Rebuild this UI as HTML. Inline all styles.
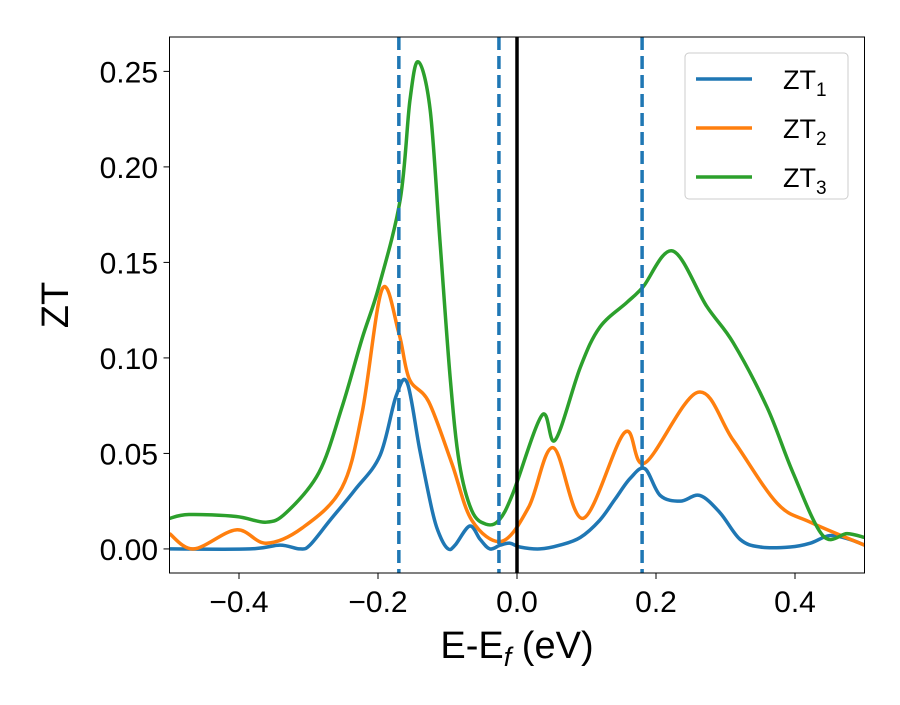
<!DOCTYPE html>
<html><head><meta charset="utf-8"><style>
body{margin:0;background:#fff}
svg text{font-family:"Liberation Sans","DejaVu Sans",sans-serif}
</style></head><body>
<svg id="chart" width="900" height="700" xmlns="http://www.w3.org/2000/svg">
<rect width="900" height="700" fill="#fff"/>
<g id="plot"></g>
<text x="0" y="0" font-size="38" text-anchor="middle" transform="translate(68,305) rotate(-90)">ZT</text>
<text x="517" y="658" font-size="38" text-anchor="middle">E-E<tspan font-style="italic" font-size="27" dy="8">f</tspan><tspan dy="-8"> (eV)</tspan></text>
<g>
<rect x="685" y="53" width="163" height="146" rx="4" fill="#fff" fill-opacity="0.85" stroke="#ccc"/>
<line x1="696" x2="752" y1="79" y2="79" stroke="#1f77b4" stroke-width="3.5"/>
<text x="783" y="89" font-size="27">ZT<tspan font-size="19" dy="7">1</tspan></text>
<line x1="696" x2="752" y1="128" y2="128" stroke="#ff7f0e" stroke-width="3.5"/>
<text x="783" y="138" font-size="27">ZT<tspan font-size="19" dy="7">2</tspan></text>
<line x1="696" x2="752" y1="177" y2="177" stroke="#2ca02c" stroke-width="3.5"/>
<text x="783" y="187" font-size="27">ZT<tspan font-size="19" dy="7">3</tspan></text>
</g>
</svg>
<script>
const xE1=[-0.5,-0.384,-0.341,-0.312,-0.298,-0.269,-0.233,-0.197,-0.174,-0.158,-0.140,-0.122,-0.111,-0.099,-0.089,-0.068,-0.053,-0.039,-0.024,-0.010,0.004,0.033,0.062,0.091,0.119,0.141,0.163,0.184,0.206,0.235,0.263,0.292,0.321,0.350,0.393,0.422,0.450,0.479,0.5];
const zt1=[0,0,0.002,0,0.002,0.015,0.031,0.049,0.080,0.087,0.052,0.020,0.007,0,0.002,0.012,0.005,0,0.002,0.003,0.001,0,0.002,0.006,0.015,0.026,0.037,0.042,0.028,0.025,0.028,0.019,0.005,0.001,0.001,0.003,0.007,0.005,0.002];
const xE2=[-0.5,-0.465,-0.404,-0.361,-0.309,-0.252,-0.223,-0.194,-0.170,-0.155,-0.127,-0.094,-0.065,-0.022,0.017,0.052,0.095,0.155,0.184,0.260,0.311,0.374,0.422,0.5];
const zt2=[0.008,0,0.010,0.003,0.011,0.032,0.071,0.136,0.113,0.089,0.077,0.045,0.015,0.004,0.022,0.053,0.016,0.061,0.045,0.082,0.057,0.024,0.014,0.002];
const xE3=[-0.5,-0.472,-0.404,-0.361,-0.332,-0.285,-0.252,-0.223,-0.199,-0.168,-0.154,-0.142,-0.125,-0.111,-0.096,-0.083,-0.065,-0.045,-0.026,-0.006,0.036,0.055,0.091,0.119,0.158,0.181,0.224,0.273,0.311,0.360,0.397,0.440,0.475,0.5];
const zt3=[0.016,0.018,0.017,0.014,0.019,0.040,0.074,0.110,0.137,0.183,0.235,0.255,0.230,0.162,0.089,0.045,0.020,0.013,0.015,0.029,0.070,0.057,0.095,0.116,0.129,0.137,0.156,0.127,0.108,0.074,0.040,0.007,0.008,0.006];
const xTicks=[-0.4,-0.2,0.0,0.2,0.4];
const xTickLabels=["\u22120.4","\u22120.2","0.0","0.2","0.4"];
const yTicks=[0,0.05,0.10,0.15,0.20,0.25];
const yTickLabels=["0.00","0.05","0.10","0.15","0.20","0.25"];
const dashedLines=[-0.17,-0.026,0.18];

const X0=169.5,X1=864.5,Y0=573,Y1=37;
const xMin=-0.5,xMax=0.5,yMin=-0.0126,yMax=0.268;
const sx=v=>X0+(v-xMin)/(xMax-xMin)*(X1-X0);
const sy=v=>Y0-(v-yMin)/(yMax-yMin)*(Y0-Y1);
const NS="http://www.w3.org/2000/svg";
const g=document.getElementById('plot');
function mk(t,a,p){const e=document.createElementNS(NS,t);for(const k in a)e.setAttribute(k,a[k]);(p||g).appendChild(e);return e;}
function smooth(xs,ys){const P=xs.map((x,i)=>[sx(x),sy(ys[i])]);let d=`M${P[0][0]},${P[0][1]}`;
for(let i=0;i<P.length-1;i++){const p0=P[Math.max(0,i-1)],p1=P[i],p2=P[i+1],p3=P[Math.min(P.length-1,i+2)];
const c1=[p1[0]+(p2[0]-p0[0])/6,p1[1]+(p2[1]-p0[1])/6],c2=[p2[0]-(p3[0]-p1[0])/6,p2[1]-(p3[1]-p1[1])/6];
d+=`C${c1[0]},${c1[1]} ${c2[0]},${c2[1]} ${p2[0]},${p2[1]}`;}return d;}
const cp=mk('clipPath',{id:'clip'});mk('rect',{x:X0,y:Y1,width:X1-X0,height:Y0-Y1},cp);
const series=[[xE1,zt1,'#1f77b4','zt1-line'],[xE2,zt2,'#ff7f0e','zt2-line'],[xE3,zt3,'#2ca02c','zt3-line']];
series.forEach(s=>{const p=mk('path',{d:smooth(s[0],s[1]),fill:'none',stroke:s[2],'stroke-width':3.5,'clip-path':'url(#clip)'});

});
dashedLines.forEach(v=>{const l=mk('line',{x1:sx(v),x2:sx(v),y1:Y1,y2:Y0,stroke:'#1f77b4','stroke-width':3.5,'stroke-dasharray':'13,6'});

});
const fl=mk('line',{x1:sx(0),x2:sx(0),y1:Y1,y2:Y0,stroke:'#000','stroke-width':3.5});


const fr=mk('rect',{x:X0,y:Y1,width:X1-X0,height:Y0-Y1,fill:'none',stroke:'#000','stroke-width':1});


xTicks.forEach((v,i)=>{mk('line',{x1:sx(v),x2:sx(v),y1:Y0,y2:Y0+6,stroke:'#000'});
const t=mk('text',{x:sx(v),y:612,'font-size':30,'text-anchor':'middle'});t.textContent=xTickLabels[i];

});
yTicks.forEach((v,i)=>{mk('line',{x1:X0-6,x2:X0,y1:sy(v),y2:sy(v),stroke:'#000'});
const t=mk('text',{x:158,y:sy(v)+11,'font-size':30,'text-anchor':'end'});t.textContent=yTickLabels[i];

});
</script>
</body></html>
